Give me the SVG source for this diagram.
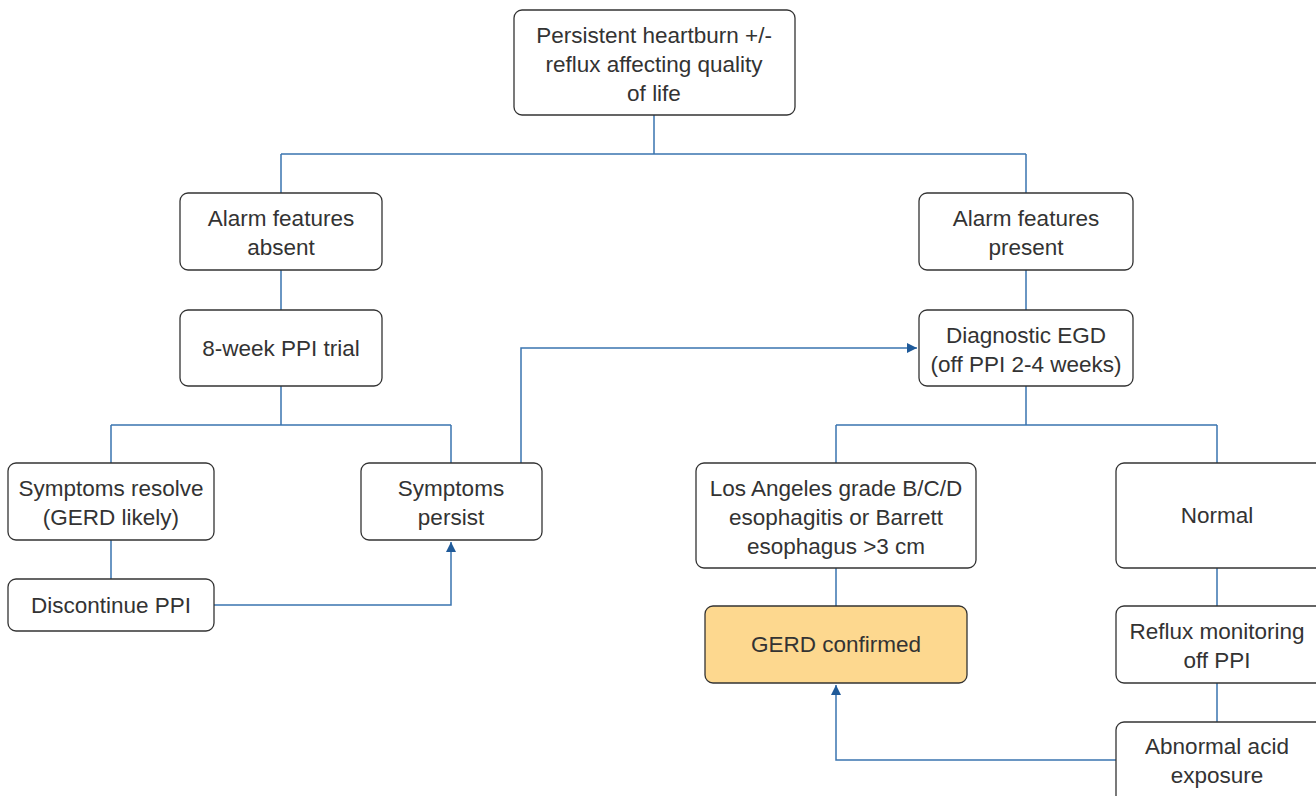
<svg xmlns="http://www.w3.org/2000/svg" width="1316" height="796" viewBox="0 0 1316 796">
<defs>
<marker id="ah" viewBox="0 0 10 10" refX="10" refY="5" markerWidth="10" markerHeight="10" markerUnits="userSpaceOnUse" orient="auto">
<path d="M0,0 L10,5 L0,10 z" fill="#1f5a99"/>
</marker>
<style>
.box{fill:#fff;stroke:#333;stroke-width:1.3}
.hl{fill:#fdd88f}
text{font-family:"Liberation Sans",Arial,sans-serif;font-size:22.5px;fill:#333;text-anchor:middle}
.c{fill:none;stroke:#3a74b0;stroke-width:1.5}
.a{marker-end:url(#ah)}
</style>
</defs>
<rect width="1316" height="796" fill="#fff"/>
<g id="connectors">
<path class="c" d="M654,115 V154 M281,154 H1026 M281,154 V193 M1026,154 V193"/>
<path class="c" d="M281,270 V310 M281,386 V425 M111,425 H451 M111,425 V463 M451,425 V463 M111,540 V579"/>
<path class="c a" d="M214,605 H451 V542"/>
<path class="c a" d="M521,463 V348 H917"/>
<path class="c" d="M1026,270 V310 M1026,386 V425 M836,425 H1217 M836,425 V463 M1217,425 V463 M836,568 V606 M1217,568 V606 M1217,683 V722"/>
<path class="c a" d="M1116,760 H836 V685"/>
</g>
<g id="n1"><rect class="box" x="514" y="10" width="281" height="105" rx="8"/><text x="654" y="43">Persistent heartburn +/-</text><text x="654" y="72">reflux affecting quality</text><text x="654" y="101">of life</text></g>
<g id="n2"><rect class="box" x="180" y="193" width="202" height="77" rx="8"/><text x="281" y="226">Alarm features</text><text x="281" y="255">absent</text></g>
<g id="n3"><rect class="box" x="919" y="193" width="214" height="77" rx="8"/><text x="1026" y="226">Alarm features</text><text x="1026" y="255">present</text></g>
<g id="n4"><rect class="box" x="180" y="310" width="202" height="76" rx="8"/><text x="281" y="356">8-week PPI trial</text></g>
<g id="n5"><rect class="box" x="919" y="310" width="214" height="76" rx="8"/><text x="1026" y="343">Diagnostic EGD</text><text x="1026" y="372">(off PPI 2-4 weeks)</text></g>
<g id="n6"><rect class="box" x="8" y="463" width="206" height="77" rx="8"/><text x="111" y="496">Symptoms resolve</text><text x="111" y="525">(GERD likely)</text></g>
<g id="n7"><rect class="box" x="361" y="463" width="181" height="77" rx="8"/><text x="451" y="496">Symptoms</text><text x="451" y="525">persist</text></g>
<g id="n8"><rect class="box" x="8" y="579" width="206" height="52" rx="8"/><text x="111" y="613">Discontinue PPI</text></g>
<g id="n9"><rect class="box" x="696" y="463" width="280" height="105" rx="8"/><text x="836" y="496">Los Angeles grade B/C/D</text><text x="836" y="525">esophagitis or Barrett</text><text x="836" y="554">esophagus &gt;3 cm</text></g>
<g id="n10"><rect class="box" x="1116" y="463" width="210" height="105" rx="8"/><text x="1217" y="523">Normal</text></g>
<g id="n11"><rect class="box hl" x="705" y="606" width="262" height="77" rx="8"/><text x="836" y="652">GERD confirmed</text></g>
<g id="n12"><rect class="box" x="1116" y="606" width="210" height="77" rx="8"/><text x="1217" y="639">Reflux monitoring</text><text x="1217" y="668">off PPI</text></g>
<g id="n13"><rect class="box" x="1116" y="722" width="210" height="90" rx="8"/><text x="1217" y="754">Abnormal acid</text><text x="1217" y="783">exposure</text></g>
</svg>
